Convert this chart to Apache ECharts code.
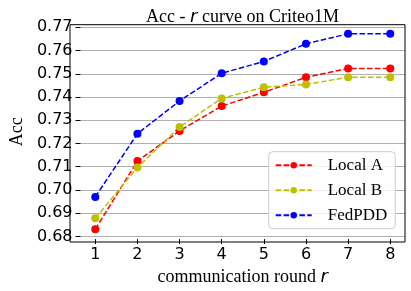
<!DOCTYPE html>
<html><head><meta charset="utf-8">
<script src="https://cdn.jsdelivr.net/npm/echarts@6/dist/echarts.min.js"></script>
<style>html,body{margin:0;padding:0;background:#fff}#c{width:411px;height:291px}</style>
</head><body><div id="c"></div>
<script>
const rounds = [1, 2, 3, 4, 5, 6, 7, 8];
const localA = [0.6831, 0.7124, 0.7254, 0.7361, 0.7420, 0.7485, 0.7523, 0.7523];
const localB = [0.6878, 0.7097, 0.7271, 0.7394, 0.7442, 0.7454, 0.7485, 0.7485];
const fedPDD = [0.6970, 0.7242, 0.7383, 0.7502, 0.7553, 0.7629, 0.7672, 0.7672];
const seriesNames = ['Local A', 'Local B', 'FedPDD'];
const colors = ['#ff0000', '#bfbf00', '#0000ff'];
const yTicks = [0.68, 0.77, 0.01];

const serif = '"Liberation Serif", "Times New Roman", serif';
const sans = '"DejaVu Sans", sans-serif';
const chart = echarts.init(document.getElementById('c'), null, {renderer: 'canvas'});
const pair = arr => rounds.map((r, i) => [r, arr[i]]);
const mk = (name, data, color) => ({
  name, type: 'line', data: pair(data), symbol: 'circle', symbolSize: 8,
  itemStyle: {color}, lineStyle: {color, width: 1.5, type: [5.5, 2.4]},
  showSymbol: true, animation: false, clip: false
});
chart.setOption({
  animation: false,
  title: {
    text: 'Acc - {i|r} curve on Criteo1M', left: 237.5, top: 3, textAlign: 'center',
    textStyle: {fontFamily: serif, fontSize: 18, fontWeight: 'normal', color: '#000',
      rich: {i: {fontFamily: sans, fontStyle: 'italic', fontSize: 18, color: '#000'}}}
  },
  grid: {left: 70, right: 6, top: 27.3, bottom: 51.7, containLabel: false},
  xAxis: {
    type: 'value', min: 0.65, max: 8.35, offset: 2.7,
    name: 'communication round {i|r}', nameLocation: 'middle', nameGap: 22,
    nameTextStyle: {fontFamily: serif, fontSize: 18, color: '#000',
      rich: {i: {fontFamily: sans, fontStyle: 'italic', fontSize: 18, color: '#000'}}},
    axisLine: {show: false},
    axisTick: {show: true, customValues: rounds, length: 5, lineStyle: {color: '#000', width: 1}},
    axisLabel: {customValues: rounds, margin: 8, fontFamily: sans, fontSize: 16, color: '#000'},
    splitLine: {show: false}
  },
  yAxis: {
    type: 'value', min: yTicks[0], max: yTicks[1], interval: yTicks[2],
    name: 'Acc', nameLocation: 'middle', nameGap: 46, nameRotate: 90,
    nameTextStyle: {fontFamily: serif, fontSize: 18, color: '#000'},
    axisLine: {show: false},
    axisTick: {show: true, length: 5, lineStyle: {color: '#000', width: 1}},
    axisLabel: {margin: 8, fontFamily: sans, fontSize: 16, color: '#000', formatter: v => v.toFixed(2)},
    splitLine: {show: true, lineStyle: {color: '#b0b0b0', width: 1}}
  },
  legend: {
    data: seriesNames, orient: 'vertical', left: 268.7, top: 151.7,
    padding: [5, 8, 5, 6], itemGap: 8, itemWidth: 36, itemHeight: 8,
    borderColor: '#cccccc', borderWidth: 1, borderRadius: 4, backgroundColor: 'rgba(255,255,255,0.8)',
    textStyle: {fontFamily: serif, fontSize: 17, color: '#000', padding: [0, 0, 0, 11]}
  },
  graphic: [{type: 'rect', shape: {x: 70, y: 24.7, width: 335, height: 217.3},
    style: {fill: null, stroke: '#000', lineWidth: 1}, z: 100, silent: true}],
  series: [mk(seriesNames[0], localA, colors[0]), mk(seriesNames[1], localB, colors[1]), mk(seriesNames[2], fedPDD, colors[2])]
});
</script></body></html>
